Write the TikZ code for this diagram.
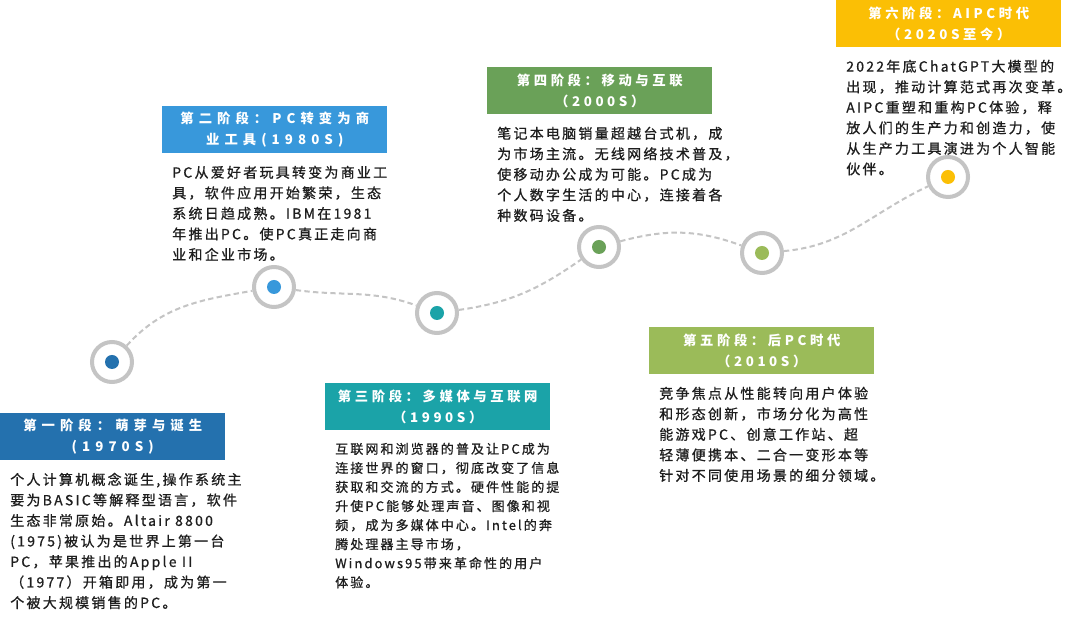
\documentclass[tikz,border=0pt]{standalone}
\usepackage{fontspec}
\setmainfont{Noto Sans CJK SC}[LetterSpace=16, FakeBold=0.8]
\newfontfamily\titlefont{Noto Sans CJK SC}[LetterSpace=27]
\newfontfamily\widetitlefont{Noto Sans CJK SC}[LetterSpace=38]
\usepackage{xcolor}
\usepackage{tikz}
\usetikzlibrary{positioning}
\definecolor{stageA}{HTML}{2471AE}
\definecolor{stageB}{HTML}{3898DB}
\definecolor{stageC}{HTML}{1BA3A8}
\definecolor{stageD}{HTML}{6AA158}
\definecolor{stageE}{HTML}{9BBB59}
\definecolor{stageF}{HTML}{FBBF05}
\definecolor{ringgray}{HTML}{C4C4C4}
\definecolor{bodytext}{HTML}{1E1E1E}

\begin{document}
\begin{tikzpicture}[x=0.75pt, y=0.75pt,
    title/.style={fill=#1, text=white, font=\titlefont\bfseries\fontsize{10pt}{15.75pt}\selectfont, align=center, minimum width=168.75pt, minimum height=35.25pt, inner sep=0pt, anchor=north west},
    wide/.style={font=\widetitlefont\bfseries\fontsize{10pt}{15.75pt}\selectfont},
    body/.style={align=left, inner sep=0pt, text=bodytext, font=\fontsize{10.5pt}{15.4pt}\selectfont, below right=9pt and 7.5pt of #1.south west},
    ring/.style={circle, draw=ringgray, fill=white, line width=3pt, minimum size=30pt, inner sep=0pt},
    dot/.style={circle, fill=#1, minimum size=10.5pt, inner sep=0pt},
    link/.style={draw=ringgray, dashed, dash pattern=on 4pt off 2.5pt, line width=1.5pt}]
    \path[fill=white, use as bounding box] (0,0) rectangle (1080,620);

    \node [title=stageA, wide] (t1) at (0,207) {第一阶段：萌芽与诞生\\(1970S)};
    \node [title=stageB, wide] (t2) at (162,514) {第二阶段：PC转变为商\\业工具(1980S)};
    \node [title=stageC] (t3) at (325,237) {第三阶段：多媒体与互联网\\（1990S）};
    \node [title=stageD] (t4) at (487,553) {第四阶段：移动与互联\\（2000S）};
    \node [title=stageE] (t5) at (649,293) {第五阶段：后PC时代\\（2010S）};
    \node [title=stageF] (t6) at (836,620) {第六阶段：AIPC时代\\（2020S至今）};

    \node [body=t1] (d1) {个人计算机概念诞生,操作系统主\\要为BASIC等解释型语言，软件\\生态非常原始。Altair 8800\\(1975)被认为是世界上第一台\\PC，苹果推出的Apple II\\（1977）开箱即用，成为第一\\个被大规模销售的PC。};
    \node [body=t2] (d2) {PC从爱好者玩具转变为商业工\\具，软件应用开始繁荣，生态\\系统日趋成熟。IBM在1981\\年推出PC。使PC真正走向商\\业和企业市场。};
    \node [body=t3, font=\fontsize{9.75pt}{14.3pt}\selectfont] (d3) {互联网和浏览器的普及让PC成为\\连接世界的窗口，彻底改变了信息\\获取和交流的方式。硬件性能的提\\升使PC能够处理声音、图像和视\\频，成为多媒体中心。Intel的奔\\腾处理器主导市场，\\Windows95带来革命性的用户\\体验。};
    \node [body=t4] (d4) {笔记本电脑销量超越台式机，成\\为市场主流。无线网络技术普及，\\使移动办公成为可能。PC成为\\个人数字生活的中心，连接着各\\种数码设备。};
    \node [body=t5] (d5) {竞争焦点从性能转向用户体验\\和形态创新，市场分化为高性\\能游戏PC、创意工作站、超\\轻薄便携本、二合一变形本等\\针对不同使用场景的细分领域。};
    \node [body=t6] (d6) {2022年底ChatGPT大模型的\\出现，推动计算范式再次变革。\\AIPC重塑和重构PC体验，释\\放人们的生产力和创造力，使\\从生产力工具演进为个人智能\\伙伴。};

    \node [ring] (c1) at (112,258) {};
    \node [ring] (c2) at (274,333) {};
    \node [ring] (c3) at (437,307) {};
    \node [ring] (c4) at (599,373) {};
    \node [ring] (c5) at (762,367) {};
    \node [ring] (c6) at (948,443) {};
    \node [dot=stageA] (c1d) at (c1) {};
    \node [dot=stageB] (c2d) at (c2) {};
    \node [dot=stageC] (c3d) at (c3) {};
    \node [dot=stageD] (c4d) at (c4) {};
    \node [dot=stageE] (c5d) at (c5) {};
    \node [dot=stageF] (c6d) at (c6) {};

    \path [link] (c1) to[out=48, in=190] (c2);
    \path [link] (c2) to[out=-8, in=160] (c3);
    \path [link] (c3) to[out=8, in=215] (c4);
    \path [link] (c4) to[out=15, in=160] (c5);
    \path [link] (c5) to[out=5, in=205] (c6);
\end{tikzpicture}
\end{document}
